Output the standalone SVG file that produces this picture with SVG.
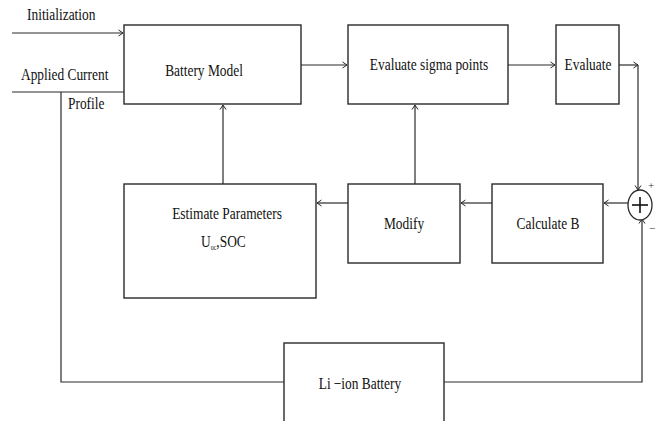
<svg xmlns="http://www.w3.org/2000/svg" width="661" height="421" viewBox="0 0 661 421">
<style>
.box{fill:#fff;stroke:#2a2a2a;stroke-width:1.4}
.ln{fill:none;stroke:#2a2a2a;stroke-width:1.2}
.t{font-family:"Liberation Serif","Times New Roman",serif;font-size:13.4px;fill:#111;text-anchor:middle}
.tl{font-family:"Liberation Serif","Times New Roman",serif;font-size:13.4px;fill:#111}
.s{font-family:"Liberation Serif","Times New Roman",serif;font-size:11px;fill:#333;text-anchor:middle}
</style>
<defs>
<marker id="ah" markerWidth="8" markerHeight="8" refX="6" refY="4" orient="auto" markerUnits="userSpaceOnUse">
<path d="M1.5,1 L6,4 L1.5,7" fill="none" stroke="#2a2a2a" stroke-width="1"/>
</marker>
</defs>
<rect width="661" height="421" fill="#fff"/>
<g id="connectors">
<line class="ln" x1="12" y1="33" x2="123" y2="33" marker-end="url(#ah)"/>
<polyline class="ln" points="12,92 124,92"/>
<polyline class="ln" points="61,92 61,382 284,382"/>
<line class="ln" x1="301" y1="65" x2="347" y2="65" marker-end="url(#ah)"/>
<line class="ln" x1="508" y1="65" x2="555" y2="65" marker-end="url(#ah)"/>
<line class="ln" x1="619" y1="65" x2="638" y2="65" marker-end="url(#ah)"/>
<line class="ln" x1="638" y1="65" x2="638" y2="190" marker-end="url(#ah)"/>
<polyline class="ln" points="444,382 642,382 642,219" marker-end="url(#ah)"/>
<line class="ln" x1="628" y1="203" x2="604" y2="203" marker-end="url(#ah)"/>
<line class="ln" x1="492" y1="203" x2="461" y2="203" marker-end="url(#ah)"/>
<line class="ln" x1="348" y1="203" x2="317" y2="203" marker-end="url(#ah)"/>
<line class="ln" x1="415" y1="184" x2="415" y2="105" marker-end="url(#ah)"/>
<line class="ln" x1="223" y1="184" x2="223" y2="105" marker-end="url(#ah)"/>
</g>
<g id="inputs">
<text class="tl" transform="translate(27,20) scale(1,1.3)">Initialization</text>
<text class="tl" transform="translate(21,80) scale(1,1.3)">Applied Current</text>
<text class="tl" transform="translate(68,109) scale(1,1.3)">Profile</text>
</g>
<g id="battery-model">
<rect class="box" x="124" y="25" width="177" height="79"/>
<text class="t" transform="translate(204,76) scale(1,1.3)">Battery Model</text>
</g>
<g id="evaluate-sigma">
<rect class="box" x="348" y="25" width="160" height="79"/>
<text class="t" transform="translate(429,70) scale(1,1.3)">Evaluate sigma points</text>
</g>
<g id="evaluate">
<rect class="box" x="556" y="25" width="63" height="79"/>
<text class="t" transform="translate(588,70) scale(1,1.3)">Evaluate</text>
</g>
<g id="estimate-parameters">
<rect class="box" x="124" y="184" width="192" height="114"/>
<text class="t" transform="translate(227,219) scale(1,1.3)">Estimate Parameters</text>
<text class="tl" transform="translate(201,247) scale(1,1.3)">U<tspan font-size="6" dy="2">oc</tspan><tspan dy="-2">,SOC</tspan></text>
</g>
<g id="modify">
<rect class="box" x="348" y="184" width="112" height="79"/>
<text class="t" transform="translate(404,229) scale(1,1.3)">Modify</text>
</g>
<g id="calculate-b">
<rect class="box" x="492" y="184" width="111" height="79"/>
<text class="t" transform="translate(548,229) scale(1,1.3)">Calculate B</text>
</g>
<g id="sum">
<ellipse cx="640" cy="205" rx="12" ry="15" fill="#fff" stroke="#2a2a2a" stroke-width="1.3"/>
<line x1="632" y1="205" x2="648" y2="205" stroke="#111" stroke-width="1.6"/>
<line x1="640" y1="197" x2="640" y2="213" stroke="#111" stroke-width="1.6"/>
<text class="s" x="651" y="189">+</text>
<text class="s" x="652" y="232">−</text>
</g>
<g id="li-ion-battery">
<rect class="box" x="284" y="343" width="160" height="100"/>
<text class="t" transform="translate(360,389) scale(1,1.3)">Li<tspan dx="3">−ion Battery</tspan></text>
</g>
</svg>
